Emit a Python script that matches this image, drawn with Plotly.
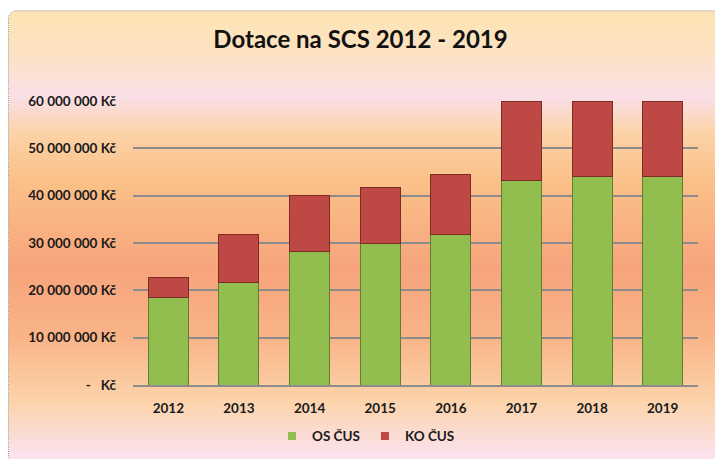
import base64
import plotly.graph_objects as go

years = ["2012", "2013", "2014", "2015", "2016", "2017", "2018", "2019"]
os_cus = [18_500_000, 21_700_000, 28_200_000, 30_000_000, 31_900_000, 43_200_000, 44_100_000, 44_100_000]
ko_cus = [4_300_000, 10_200_000, 11_800_000, 11_800_000, 12_500_000, 16_800_000, 15_900_000, 15_900_000]
series_names = ["OS ČUS", "KO ČUS"]
tick_vals = [0, 10_000_000, 20_000_000, 30_000_000, 40_000_000, 50_000_000, 60_000_000]
tick_text = ["-\u00a0\u00a0\u00a0Kč", "10 000 000 Kč", "20 000 000 Kč", "30 000 000 Kč",
             "40 000 000 Kč", "50 000 000 Kč", "60 000 000 Kč"]

W, H = 715, 464
FONT = "Lato"
GREEN, GREEN_EDGE = "#92be50", "#5f7f2e"
RED, RED_EDGE = "#bd4844", "#7e2a27"

svg = f'''<svg xmlns="http://www.w3.org/2000/svg" width="{W}" height="{H}" viewBox="0 0 {W} {H}">
<defs><linearGradient id="g" x1="0" y1="0" x2="0" y2="1">
<stop offset="0.02" stop-color="#fde4b6"/>
<stop offset="0.09" stop-color="#fde2c2"/>
<stop offset="0.19" stop-color="#fadfe8"/>
<stop offset="0.27" stop-color="#fcd2a6"/>
<stop offset="0.38" stop-color="#fbc088"/>
<stop offset="0.57" stop-color="#f7a47c"/>
<stop offset="0.72" stop-color="#f9b488"/>
<stop offset="0.86" stop-color="#fcd3aa"/>
<stop offset="0.98" stop-color="#fbe2ec"/>
</linearGradient></defs>
<rect x="8.5" y="9.5" width="712" height="460" rx="8" ry="8" fill="url(#g)" stroke="#9a9a9a" stroke-width="1" stroke-dasharray="1,1"/>
</svg>'''
uri = "data:image/svg+xml;base64," + base64.b64encode(svg.encode()).decode()

L, R, T, B = 133, 17, 101, 75
pw, ph = W - L - R, H - T - B

fig = go.Figure()
fig.add_trace(go.Bar(x=years, y=os_cus, name=series_names[0], showlegend=False,
                     marker=dict(color=GREEN, line=dict(color=GREEN_EDGE, width=1))))
fig.add_trace(go.Bar(x=years, y=ko_cus, name=series_names[1], showlegend=False,
                     marker=dict(color=RED, line=dict(color=RED_EDGE, width=1))))
# legend entries with small square swatches
for nm, col in zip(series_names, [GREEN, RED]):
    fig.add_trace(go.Scatter(x=[None], y=[None], mode="markers", name=nm,
                             marker=dict(symbol="square", size=8, color=col)))

fig.update_layout(
    width=W, height=H,
    barmode="stack", bargap=0.435,
    margin=dict(l=L, r=R, t=T, b=B, pad=0),
    paper_bgcolor="white", plot_bgcolor="rgba(0,0,0,0)",
    font=dict(family=FONT, size=13.5, color="#1a1a1a"),
    title=dict(text="<b>Dotace na SCS 2012 - 2019</b>", x=(360.5 - L) / pw, xref="paper",
               xanchor="center", y=1 - 40 / H, yanchor="middle",
               font=dict(family=FONT, size=24, color="#111111")),
    images=[dict(source=uri, xref="paper", yref="paper",
                 x=-L / pw, y=1 + T / ph, sizex=W / pw, sizey=H / ph,
                 xanchor="left", yanchor="top", sizing="stretch", layer="below")],
    legend=dict(orientation="h", x=(366 - L) / pw, xanchor="center",
                y=-(441 - 389) / ph, yanchor="middle",
                font=dict(family=FONT, size=13.5, color="#1a1a1a", weight="bold"),
                bgcolor="rgba(0,0,0,0)", itemwidth=30, traceorder="normal"),
    showlegend=True,
)
fig.update_yaxes(range=[0, 60_000_000], tickvals=tick_vals, ticktext=tick_text,
                 showgrid=True, gridcolor="#8c8c8c", gridwidth=1.5,
                 zeroline=False, showline=False, ticks="", ticklabelstandoff=16,
                 tickfont=dict(family=FONT, size=13.5, color="#1a1a1a", weight="bold"))
fig.update_xaxes(showline=True, linecolor="#8c8c8c", linewidth=1.5, ticks="",
                 tickfont=dict(family=FONT, size=13.5, color="#1a1a1a", weight="bold"),
                 ticklabelstandoff=10)
fig.write_html("out.html", config={"displayModeBar": False},
               post_script="document.body.style.margin='0px';")
